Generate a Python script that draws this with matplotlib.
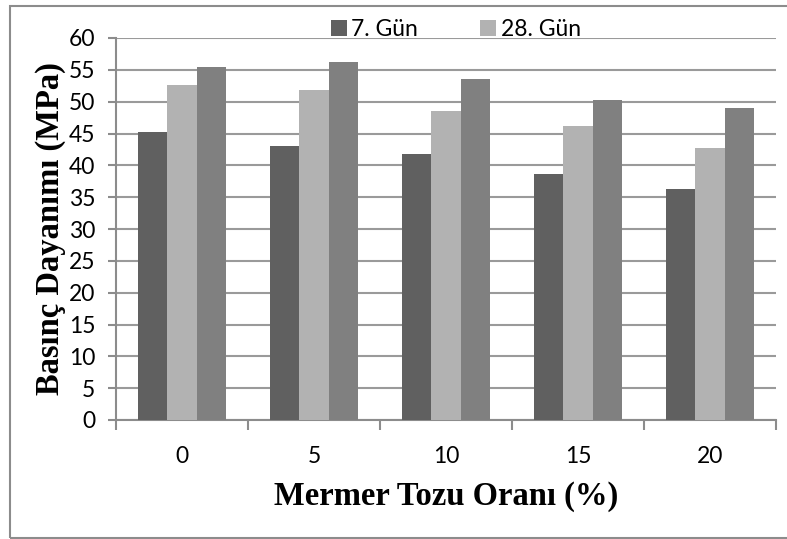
import numpy as np
import matplotlib.pyplot as plt
from matplotlib.patches import Rectangle
from matplotlib.ticker import FixedLocator

# values
categories = ['0', '5', '10', '15', '20']
gun_7 = [45.2, 43.0, 41.8, 38.7, 36.3]
gun_28 = [52.6, 51.9, 48.6, 46.2, 42.8]
gun_90 = [55.4, 56.2, 53.6, 50.3, 49.0]
series_labels = ['7. Gün', '28. Gün', '90. Gün']
colors = ['#606060', '#b2b2b2', '#808080']

fig = plt.figure(figsize=(7.87, 5.39), dpi=100)
ax = fig.add_axes([116 / 787, 1 - 420 / 539, 660 / 787, 382 / 539])

# outer chart frame
fig.patches.append(Rectangle((10 / 787, 1 - 538 / 539), 0.99, 532 / 539,
                             transform=fig.transFigure, fill=False,
                             edgecolor='#8c8c8c', linewidth=1.5))

x = np.arange(len(categories))
w = 0.222
bars = []
for i, (vals, c) in enumerate(zip([gun_7, gun_28, gun_90], colors)):
    b = ax.bar(x + (i - 1) * w, vals, width=w, color=c, zorder=3)
    bars.append(b)

ax.set_xlim(-0.5, len(categories) - 0.5)
ax.set_ylim(0, 60)
ax.set_yticks(range(0, 61, 5))
ax.set_xticks(x)
ax.set_xticklabels(categories)
ax.xaxis.set_minor_locator(FixedLocator(np.arange(-0.5, len(categories), 1)))

ax.grid(axis='y', color='#9a9a9a', linewidth=1.5, zorder=0)
for s in ['top', 'right']:
    ax.spines[s].set_visible(False)
for s in ['left', 'bottom']:
    ax.spines[s].set_color('#8c8c8c')
    ax.spines[s].set_linewidth(1.5)

tick_font = 'Lato'
ax.tick_params(axis='y', length=6, width=1.5, color='#8c8c8c', pad=9,
               labelsize=16.5)
ax.tick_params(axis='x', which='major', length=0, pad=19, labelsize=16.5)
ax.tick_params(axis='x', which='minor', length=7, width=1.5, color='#8c8c8c')
for lab in ax.get_xticklabels() + ax.get_yticklabels():
    lab.set_fontfamily(tick_font)

ax.set_xlabel('Mermer Tozu Oranı (%)', fontfamily='Liberation Serif',
              fontweight='bold', fontsize=23.5, labelpad=10)
ax.set_ylabel('Basınç Dayanımı (MPa)', fontfamily='Liberation Serif',
              fontweight='bold', fontsize=23.5, labelpad=2)

# only the first two legend entries are visible in the reference
ax.legend([bars[0], bars[1]], series_labels[:2], ncol=2, frameon=False,
          loc='lower center', bbox_to_anchor=(0.515, 0.97), borderaxespad=0,
          handlelength=0.7, handleheight=0.7, handletextpad=0.2,
          columnspacing=2.7, prop={'family': tick_font, 'size': 16.5})

fig.savefig('out.png', dpi=100)
